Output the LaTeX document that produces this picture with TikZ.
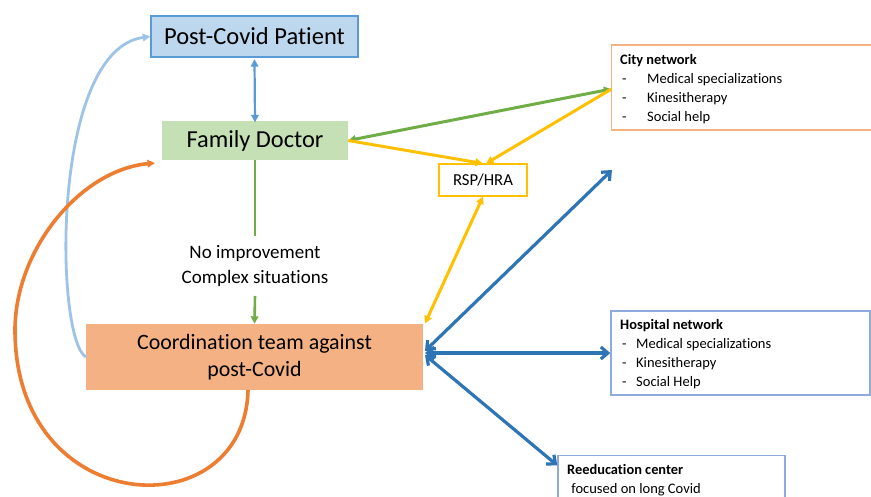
\documentclass[tikz,border=0pt]{standalone}
\usepackage{fontspec}
\setmainfont{Carlito}[Ligatures=NoCommon]
\usetikzlibrary{arrows.meta}
\definecolor{pblue}{HTML}{BDD7EE}
\definecolor{pblueb}{HTML}{5B9BD5}
\definecolor{dgreen}{HTML}{C5E0B4}
\definecolor{lgreen}{HTML}{70AD47}
\definecolor{corange}{HTML}{F4B183}
\definecolor{dorange}{HTML}{ED7D31}
\definecolor{cyellow}{HTML}{FFC000}
\definecolor{dblue}{HTML}{2E75B6}
\definecolor{lblue}{HTML}{9DC3E6}
\definecolor{hblue}{HTML}{8FAADC}
\definecolor{cityb}{HTML}{F4B183}
\begin{document}
\begin{tikzpicture}[x=1pt,y=-1pt,
  lbl/.style={inner sep=0pt,anchor=base west,font=\fontsize{14.5}{16}\selectfont},
  tri/.style={-{Triangle[length=7.5pt,width=7.5pt]}},
  btri/.style={{Triangle[length=7.5pt,width=7.5pt]}-{Triangle[length=7.5pt,width=7.5pt]}},
  barb/.style={{Straight Barb[length=7pt,width=12pt]}-{Straight Barb[length=7pt,width=12pt]}}]
\useasboundingbox (0,0) rectangle (871,497);
% boxes
\node[draw=pblueb,fill=pblue,line width=1.4pt,minimum width=207pt,minimum height=41pt,font=\fontsize{24.5}{27}\selectfont] (pat) at (254.5,36.5) {Post-Covid Patient};
\node[fill=dgreen,minimum width=186pt,minimum height=39pt,font=\fontsize{24.4}{27}\selectfont] (fd) at (255,140.5) {Family Doctor};
\node[fill=corange,minimum width=337pt,minimum height=66pt,align=center,font=\fontsize{21.9}{27}\selectfont] (ct) at (254.5,357) {Coordination team against\\post-Covid};
\node[draw=cyellow,line width=1.4pt,minimum width=88pt,minimum height=32pt,font=\fontsize{16.7}{18}\selectfont] (rsp) at (483,180) {RSP/HRA};
\node[align=center,font=\fontsize{19}{24.5}\selectfont,inner sep=0pt] (txt) at (255,266) {No improvement\\Complex situations};
% right boxes
\draw[cityb,line width=1.5pt] (880,45) -- (611.5,45) -- (611.5,130) -- (880,130);
\node[inner sep=0pt,minimum width=0pt] (city) at (611.5,89) {};
\node[lbl,font=\fontsize{14.4}{16}\selectfont\bfseries] (c0) at (620,65) {City network};
\node[lbl] (c1) at (622,83.5) {-};
\node[lbl] (c2) at (647,83.5) {Medical specializations};
\node[lbl] (c3) at (622,102.5) {-};
\node[lbl] (c4) at (647,102.5) {Kinesitherapy};
\node[lbl] (c5) at (622,121.5) {-};
\node[lbl] (c6) at (647,121.5) {Social help};
\node[draw=hblue,line width=1.5pt,minimum width=259pt,minimum height=84pt,inner sep=0pt] (hosp) at (740.5,353) {};
\node[lbl,font=\fontsize{14.4}{16}\selectfont\bfseries] (h0) at (620,330) {Hospital network};
\node[lbl] (h1) at (622,348.5) {-};
\node[lbl] (h2) at (636,348.5) {Medical specializations};
\node[lbl] (h3) at (622,367.5) {-};
\node[lbl] (h4) at (636,367.5) {Kinesitherapy};
\node[lbl] (h5) at (622,386.5) {-};
\node[lbl] (h6) at (636,386.5) {Social Help};
\draw[hblue,line width=1.5pt] (558,505) -- (558,455.5) -- (785,455.5) -- (785,505);
\node[inner sep=0pt] (reed) at (558,466) {};
\node[lbl,font=\fontsize{14.4}{16}\selectfont\bfseries] (r0) at (567,474) {Reeducation center};
\node[lbl] (r1) at (568,493) {\ focused on long Covid};
\coordinate (free) at (612,170);
% connectors
\draw[pblueb,line width=2.2pt,btri] (pat.south) ++(0,1.5) -- ([yshift=-1.5pt]fd.north);
\draw[lgreen,line width=2.6pt] (fd.south) -- (255,236);
\draw[lgreen,line width=2.6pt,tri] (255,296) -- (ct.north);
\draw[lgreen,line width=3pt,btri] (city) -- (fd.east);
\draw[cyellow,line width=3pt,tri] (fd.east) -- (483,163.5);
\draw[cyellow,line width=3pt,tri] (city) -- (486,163.5);
\draw[cyellow,line width=3pt,btri] (483,196.5) -- (425,323.5);
\draw[dblue,line width=3.2pt,barb] (425,351) -- (free);
\draw[dblue,line width=3.2pt,barb] (425,353) -- (hosp.west);
\draw[dblue,line width=3.2pt,barb] (425,355) -- (reed);
\draw[lblue,line width=2.8pt,tri] (86,357) .. controls (55,340) and (50,50) .. (pat.west);
\draw[dorange,line width=3.6pt] (248,390) .. controls (245,530) and (15,520) .. (15,330);
\draw[dorange,line width=3.6pt,tri] (15,330) .. controls (15,250) and (80,170) .. (155,163);
\end{tikzpicture}
\end{document}
